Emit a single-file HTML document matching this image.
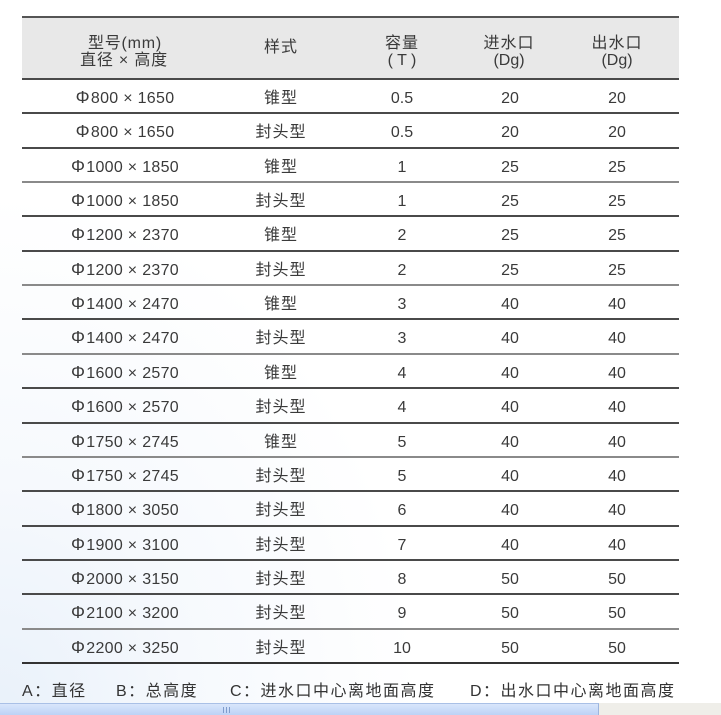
<!DOCTYPE html>
<html><head><meta charset="utf-8">
<style>
html,body{margin:0;padding:0;}
body{width:721px;height:715px;position:relative;overflow:hidden;
background:radial-gradient(ellipse 420px 520px at 0% 100%, #e9f1fa 0%, #f6f9fd 45%, #ffffff 100%);
font-family:"Liberation Sans","Noto Sans CJK SC",sans-serif;color:#3a3a3a;}
.hdr{position:absolute;left:22px;top:17px;width:657px;height:62px;background:#e8e8e8;}
.ln{position:absolute;left:22px;width:657px;height:2px;background:#4a4a4a;}
.ln.g{background:#8a8a8a;}
.t{position:absolute;white-space:nowrap;transform:translateX(-50%);font-size:16px;line-height:20px;}
.c{font-family:"Liberation Sans","Noto Sans CJK SC",sans-serif;letter-spacing:1px;}
.h{letter-spacing:0.8px;}
.row{position:absolute;left:0;width:721px;height:34px;}
.row .t{top:8px;}
.p{font-size:17.5px;margin-right:1px;line-height:0;}
.m{letter-spacing:0.3px;}
.ft{position:absolute;top:681px;font-size:16px;line-height:22px;white-space:nowrap;letter-spacing:1.5px;color:#333;font-family:"Liberation Sans","Noto Sans CJK SC",sans-serif;}
.sb{position:absolute;left:0;top:703px;width:599px;height:12px;background:linear-gradient(#d9e6fb,#bcd2f6);border-top:1px solid #a9c0e6;border-right:1px solid #9db5de;box-sizing:border-box;}
.sbr{position:absolute;left:599px;top:703px;width:122px;height:12px;background:#efeee9;}
.grip{position:absolute;left:223px;top:3px;width:7px;height:6px;border-left:1px solid #7f9ccc;border-right:1px solid #7f9ccc;box-sizing:border-box;}
.grip:after{content:"";position:absolute;left:2px;top:0;width:1px;height:6px;background:#7f9ccc;}
</style></head><body>
<div class="hdr"></div>
<div class="ln" style="top:16px;background:#555"></div>

<div class="t h" style="left:125px;top:34px;">型号(mm)</div>
<div class="t h" style="left:124px;top:51px;">直径 × 高度</div>
<div class="t c" style="left:281px;top:38px;">样式</div>
<div class="t c" style="left:402px;top:34px;">容量</div>
<div class="t" style="left:402px;top:51px;">( T )</div>
<div class="t c" style="left:509px;top:34px;">进水口</div>
<div class="t" style="left:509px;top:51px;">(Dg)</div>
<div class="t c" style="left:617px;top:34px;">出水口</div>
<div class="t" style="left:617px;top:51px;">(Dg)</div>

<div class="ln" style="top:78px"></div>
<div class="ln" style="top:112.35px"></div>
<div class="ln" style="top:146.7px"></div>
<div class="ln g" style="top:181.05px"></div>
<div class="ln" style="top:215.4px"></div>
<div class="ln" style="top:249.75px"></div>
<div class="ln g" style="top:284.1px"></div>
<div class="ln" style="top:318.45px"></div>
<div class="ln g" style="top:352.8px"></div>
<div class="ln" style="top:387.15px"></div>
<div class="ln" style="top:421.5px"></div>
<div class="ln g" style="top:455.85px"></div>
<div class="ln" style="top:490.2px"></div>
<div class="ln" style="top:524.55px"></div>
<div class="ln" style="top:558.9px"></div>
<div class="ln" style="top:593.25px"></div>
<div class="ln g" style="top:627.6px"></div>
<div class="ln" style="top:661.95px;background:#333"></div>

<div class="row" style="top:81px"><div class="t m" style="left:125px"><span class="p">Φ</span>800 × 1650</div><div class="t c" style="left:281px">锥型</div><div class="t" style="left:402px">0.5</div><div class="t" style="left:510px">20</div><div class="t" style="left:617px">20</div></div>
<div class="row" style="top:115.35px"><div class="t m" style="left:125px"><span class="p">Φ</span>800 × 1650</div><div class="t c" style="left:281px">封头型</div><div class="t" style="left:402px">0.5</div><div class="t" style="left:510px">20</div><div class="t" style="left:617px">20</div></div>
<div class="row" style="top:149.7px"><div class="t m" style="left:125px"><span class="p">Φ</span>1000 × 1850</div><div class="t c" style="left:281px">锥型</div><div class="t" style="left:402px">1</div><div class="t" style="left:510px">25</div><div class="t" style="left:617px">25</div></div>
<div class="row" style="top:184.05px"><div class="t m" style="left:125px"><span class="p">Φ</span>1000 × 1850</div><div class="t c" style="left:281px">封头型</div><div class="t" style="left:402px">1</div><div class="t" style="left:510px">25</div><div class="t" style="left:617px">25</div></div>
<div class="row" style="top:218.4px"><div class="t m" style="left:125px"><span class="p">Φ</span>1200 × 2370</div><div class="t c" style="left:281px">锥型</div><div class="t" style="left:402px">2</div><div class="t" style="left:510px">25</div><div class="t" style="left:617px">25</div></div>
<div class="row" style="top:252.75px"><div class="t m" style="left:125px"><span class="p">Φ</span>1200 × 2370</div><div class="t c" style="left:281px">封头型</div><div class="t" style="left:402px">2</div><div class="t" style="left:510px">25</div><div class="t" style="left:617px">25</div></div>
<div class="row" style="top:287.1px"><div class="t m" style="left:125px"><span class="p">Φ</span>1400 × 2470</div><div class="t c" style="left:281px">锥型</div><div class="t" style="left:402px">3</div><div class="t" style="left:510px">40</div><div class="t" style="left:617px">40</div></div>
<div class="row" style="top:321.45px"><div class="t m" style="left:125px"><span class="p">Φ</span>1400 × 2470</div><div class="t c" style="left:281px">封头型</div><div class="t" style="left:402px">3</div><div class="t" style="left:510px">40</div><div class="t" style="left:617px">40</div></div>
<div class="row" style="top:355.8px"><div class="t m" style="left:125px"><span class="p">Φ</span>1600 × 2570</div><div class="t c" style="left:281px">锥型</div><div class="t" style="left:402px">4</div><div class="t" style="left:510px">40</div><div class="t" style="left:617px">40</div></div>
<div class="row" style="top:390.15px"><div class="t m" style="left:125px"><span class="p">Φ</span>1600 × 2570</div><div class="t c" style="left:281px">封头型</div><div class="t" style="left:402px">4</div><div class="t" style="left:510px">40</div><div class="t" style="left:617px">40</div></div>
<div class="row" style="top:424.5px"><div class="t m" style="left:125px"><span class="p">Φ</span>1750 × 2745</div><div class="t c" style="left:281px">锥型</div><div class="t" style="left:402px">5</div><div class="t" style="left:510px">40</div><div class="t" style="left:617px">40</div></div>
<div class="row" style="top:458.85px"><div class="t m" style="left:125px"><span class="p">Φ</span>1750 × 2745</div><div class="t c" style="left:281px">封头型</div><div class="t" style="left:402px">5</div><div class="t" style="left:510px">40</div><div class="t" style="left:617px">40</div></div>
<div class="row" style="top:493.2px"><div class="t m" style="left:125px"><span class="p">Φ</span>1800 × 3050</div><div class="t c" style="left:281px">封头型</div><div class="t" style="left:402px">6</div><div class="t" style="left:510px">40</div><div class="t" style="left:617px">40</div></div>
<div class="row" style="top:527.55px"><div class="t m" style="left:125px"><span class="p">Φ</span>1900 × 3100</div><div class="t c" style="left:281px">封头型</div><div class="t" style="left:402px">7</div><div class="t" style="left:510px">40</div><div class="t" style="left:617px">40</div></div>
<div class="row" style="top:561.9px"><div class="t m" style="left:125px"><span class="p">Φ</span>2000 × 3150</div><div class="t c" style="left:281px">封头型</div><div class="t" style="left:402px">8</div><div class="t" style="left:510px">50</div><div class="t" style="left:617px">50</div></div>
<div class="row" style="top:596.25px"><div class="t m" style="left:125px"><span class="p">Φ</span>2100 × 3200</div><div class="t c" style="left:281px">封头型</div><div class="t" style="left:402px">9</div><div class="t" style="left:510px">50</div><div class="t" style="left:617px">50</div></div>
<div class="row" style="top:630.6px"><div class="t m" style="left:125px"><span class="p">Φ</span>2200 × 3250</div><div class="t c" style="left:281px">封头型</div><div class="t" style="left:402px">10</div><div class="t" style="left:510px">50</div><div class="t" style="left:617px">50</div></div>

<div class="ft" style="left:22px">A：直径</div>
<div class="ft" style="left:116px">B：总高度</div>
<div class="ft" style="left:230px">C：进水口中心离地面高度</div>
<div class="ft" style="left:470px">D：出水口中心离地面高度</div>

<div class="sb"><div class="grip"></div></div>
<div class="sbr"></div>
</body></html>
